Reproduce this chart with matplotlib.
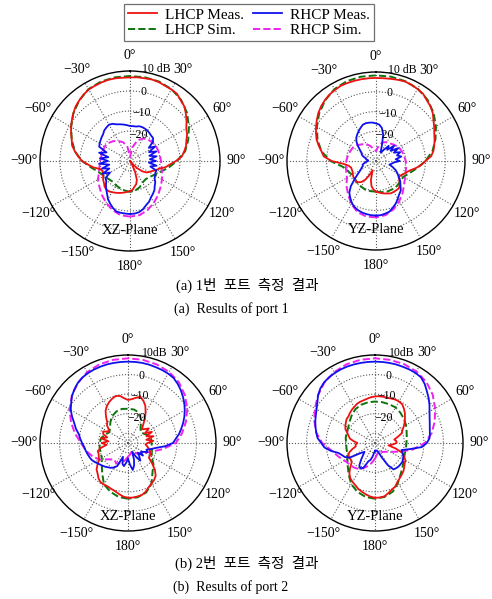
import numpy as np
import matplotlib
matplotlib.use('Agg')
import matplotlib.pyplot as plt
from matplotlib.lines import Line2D

plt.rcParams['font.family'] = ['Liberation Serif', 'Noto Sans CJK KR']

# angles in degrees (measured: 5 deg steps, simulated: 10 deg steps)
ang_meas = list(range(-180, 185, 5))
ang_sim = list(range(-180, 190, 10))

# ---- port 1, XZ plane ----
lhcp_meas_xz1 = [-20, -19.5, -19, -18.5, -18, -17.5, -17, -16.5, -16.5, -17, -18, -18.6, -19.5, -20, -20.5, -19.5,
                 -16.5, -14, -11, -9, -7, -5, -4, -2.5, -1, 0.5, 2, 3.5, 4.5, 5.5, 6.3, 6.5, 6.8, 7, 7, 6.8,
                 6.8, 7, 7, 7.2, 7, 6.5, 6.3, 6, 4.5, 3.5, 1.5, -0.5, -2.5, -3.5, -5, -6, -7.5, -9, -12, -15,
                 -17, -20, -21.5, -23, -24, -25, -27, -30, -33, -35, -33, -29, -25, -23, -22, -20.5, -20]
lhcp_sim_xz1 = [-19.5, -20, -20.5, -21, -21.5, -21, -20, -18.5, -15.5, -11, -7, -4, -1, 2, 4.5, 6.5, 7.3, 7.5,
                7.5, 7.5, 7.3, 6.5, 4.8, 2.3, -1, -4, -7, -11.5, -15.5, -19, -21, -22.5, -23, -22.5, -21, -20, -19.5]
rhcp_meas_xz1 = [-8.5, -8.6, -8.7, -8.8, -10, -11.5, -13, -15, -16.5, -18, -19.5, -20, -23.5, -20, -24, -20.5,
                 -24.5, -19.5, -24, -20, -24, -19, -22.5, -18, -17.5, -17, -16.5, -16, -15, -14.5, -14, -14.5,
                 -15.5, -16, -16.5, -17, -17.5, -17.5, -17.5, -17, -17, -17.2, -17.5, -18, -18.5, -18.7, -20,
                 -23.5, -20.5, -24.5, -21, -25, -21.5, -25, -22, -25.5, -21.5, -24.5, -21, -21, -20.5, -20, -18.5,
                 -17.5, -16, -15, -14, -12.5, -11.5, -10, -9, -8.6, -8.5]
rhcp_sim_xz1 = [-7.2, -7.5, -9, -11, -13, -15, -16.5, -18.5, -19.5, -20, -20.5, -20.5, -20.5, -21, -22, -23.5,
                -25, -28, -33, -28, -24, -22, -21, -20.5, -20, -20, -19.8, -19.5, -19, -18, -16.5, -15, -13,
                -11, -9, -7.5, -7.2]

# ---- port 1, YZ plane ----
lhcp_meas_yz1 = [-19.5, -20.5, -22, -25, -30, -27, -24, -22, -21, -20.5, -21, -21, -21.5, -22, -22, -22,
                 -21, -18.5, -12.5, -8.5, -7, -5, -3, -1.5, 0, 1.5, 3, 4.2, 5.2, 6, 6.5, 7, 7, 7, 7, 7,
                 7, 7, 7.2, 7.5, 7.8, 7.5, 7, 6.5, 5, 4, 2.5, 0.5, -1, -2.5, -3.5, -4.5, -5.5, -7, -10, -12,
                 -14.5, -17, -18.5, -19.5, -20.5, -21, -19.5, -18, -17, -17, -17, -17, -17.5, -18, -18.5, -19, -19.5]
lhcp_sim_yz1 = [-19.5, -19.5, -19.5, -20, -20.5, -21, -21, -20, -18, -12, -7, -3.5, -0.5, 2.5, 5, 7, 8, 8.3,
                8.3, 8.3, 8, 7.2, 5.5, 3, 0, -3, -6, -10, -14, -17, -19, -19, -18.5, -18.5, -18.5, -19, -19.5]
rhcp_meas_yz1 = [-7.4, -7.5, -7.7, -8, -8.5, -9.3, -10.5, -12.3, -14, -17, -21, -24, -26, -27, -28, -28,
                 -29, -30, -31, -31, -30, -29.5, -28, -27, -26.5, -25, -23, -21, -19.5, -18.5, -17.5, -16.5,
                 -15.5, -15.2, -15.3, -15.5, -16, -16.5, -18, -21, -26, -29, -30, -28, -25, -27, -23, -26,
                 -22, -25, -22, -24, -22, -25, -23, -26, -27, -28, -26, -24, -22.5, -21, -19, -17.5, -15.5,
                 -14.5, -13, -11.3, -10, -8.5, -8, -7.5, -7.4]
rhcp_sim_yz1 = [-6.5, -6.5, -7.5, -10, -13, -15.5, -18, -19, -19.5, -20, -20.5, -21, -21.5, -22.5, -24, -25,
                -27, -29, -30, -27, -25, -24, -23.5, -22.5, -21.5, -21, -20.5, -20, -19.5, -19, -18, -16.5,
                -14, -11.5, -9, -7.2, -6.5]

# ---- port 2, XZ plane ----
lhcp_meas_xz2 = [-7, -7.5, -8.5, -9.5, -10, -10.5, -10.5, -10.5, -11.5, -13, -14, -16, -18, -18.5, -19, -19,
                 -21, -24, -21.5, -25, -21, -24, -21.5, -21, -23.5, -23, -21, -20, -17.5, -15, -13.3, -12,
                 -11, -10.2, -10.5, -12, -13, -12.5, -11.5, -10.5, -12, -14, -17, -20, -23, -25, -24, -22,
                 -25, -21.5, -25, -21.5, -25.5, -22, -25, -26, -25, -24, -23, -22.5, -22, -22, -19, -15.5, -13,
                 -11.8, -11, -10, -8.5, -7.5, -7.2, -7, -7]
lhcp_sim_xz2 = [-6.5, -7, -8.5, -10.5, -14.5, -17.5, -19.5, -20.2, -20.3, -20.5, -21, -22.5, -24, -23, -21, -19,
                -17.8, -17.3, -17.5, -17.6, -18.5, -21.5, -25, -26.5, -25.5, -24, -23, -23, -22.5, -22, -21,
                -18, -15.5, -11, -8, -6.8, -6.5]
rhcp_meas_xz2 = [-27, -25, -23, -24, -27.5, -22, -20.5, -19.5, -18.8, -18, -17.3, -16.5, -15.5, -14.5, -14,
                 -13.5, -13, -12.5, -11.5, -10.5, -9.5, -7.5, -5.8, -3.5, -1.2, 0.5, 2.4, 3.8, 5, 5.8, 6.2,
                 6.4, 6.5, 6.6, 6.6, 6.6, 6.6, 6.6, 6.6, 6.5, 6.3, 6.2, 6, 5.6, 4.5, 3.2, 1.7, 0.2, -1.5,
                 -3.2, -5, -6.8, -8.5, -10.5, -12, -16, -20.5, -23, -25, -24, -26, -27, -25, -28, -26, -24,
                 -27, -30, -26, -23, -21, -24, -27]
rhcp_sim_xz2 = [-28, -26, -24, -23, -24, -22, -18, -15.5, -13, -11, -7.5, -4, -0.5, 2.5, 5, 6.8, 7.8, 8.2,
                8.3, 8.2, 7.8, 7, 5.5, 3, 0, -3.5, -7, -10.5, -17, -22, -25, -27, -28, -30, -30, -29, -28]

# ---- port 2, YZ plane ----
lhcp_meas_yz2 = [-7, -7.5, -8.3, -9.2, -10, -11.2, -12, -13, -14.6, -17, -19.4, -20, -20, -20, -21, -23,
                 -25, -25, -26, -24, -22, -21, -20, -18.3, -17.5, -16.8, -16, -15.8, -15, -14.3, -13.7, -13,
                 -12.6, -12.4, -12, -11.5, -11.2, -11, -11, -11, -10.8, -10.5, -10.5, -10.8, -12, -13.4, -15,
                 -16.5, -18, -19.5, -20.5, -23, -25, -24, -24, -26, -28, -24, -20, -18.5, -17, -16.5, -15.5,
                 -14.5, -13.8, -13, -12, -10.5, -9.7, -8.5, -7.3, -7, -7]
lhcp_sim_yz2 = [-6.5, -7, -8.5, -10.7, -14, -16.8, -18.7, -19.8, -20.2, -20.2, -19.8, -19.5, -19.2, -18, -16.5,
                -15, -14.2, -13.9, -13.8, -13.8, -13.9, -14, -14.8, -15.7, -16.7, -17.8, -18.5, -18.9, -19,
                -18.8, -18, -16.5, -14.5, -11.5, -8.5, -7, -6.5]
rhcp_meas_yz2 = [-31, -30, -28, -26, -25, -21, -20, -21, -24, -26.5, -28, -26, -20, -18, -17, -15.5, -12, -9,
                 -7.5, -5.5, -4.5, -3.5, -2.5, -1.6, -0.5, 1, 3, 4.5, 5.5, 6, 6.3, 6.5, 6.6, 6.6, 6.6, 6.6,
                 6.6, 6.6, 6.6, 6.6, 6.5, 6.5, 6.4, 6, 4.5, 2.5, 0.8, -1, -2.8, -4.2, -5.2, -6, -6.5, -7,
                 -8.5, -11, -17, -21, -20, -19, -18.5, -18, -18, -18, -18.2, -18.5, -22, -27, -30, -31, -31,
                 -31, -31]
rhcp_sim_yz2 = [-27, -24.5, -22, -19.5, -18.5, -18, -17, -15, -12.5, -8, -4.5, -2, 0.5, 3, 5.3, 6.8, 7.8, 8.2,
                8.3, 8.2, 8, 7.3, 5.8, 3.5, 0.5, -2.5, -5.5, -9.5, -15.5, -22, -26, -28, -29, -30, -30, -29, -27]

theta_labels = ['0°', '30°', '60°', '90°', '120°', '150°', '180°',
                '−150°', '−120°', '−90°', '−60°', '−30°']

C_LM = '#ee1111'
C_LS = '#0b750b'
C_RM = '#1010ee'
C_RS = '#ee22ee'


def draw_pattern(ax, lm, ls, rm, rs, plane, dbtxt, plane_r):
    tm = np.deg2rad(ang_meas)
    ts = np.deg2rad(ang_sim)
    ax.set_theta_zero_location('N')
    ax.set_theta_direction(-1)
    ax.plot(ts, ls, color=C_LS, ls='--', lw=1.4)
    ax.plot(ts, rs, color=C_RS, ls='--', lw=1.4)
    ax.plot(tm, lm, color=C_LM, lw=1.3)
    ax.plot(tm, rm, color=C_RM, lw=1.3)
    ax.set_ylim(-35, 10)
    ax.set_rgrids([-30, -20, -10, 0], labels=['', '', '', ''])
    ax.set_thetagrids(range(0, 360, 30), labels=theta_labels, fontsize=10)
    ax.tick_params(axis='x', pad=1)
    ax.grid(True, color='0.35', ls=':', lw=0.8)
    ax.spines['polar'].set_linewidth(1.0)
    # radial labels
    for txt, rv, dx, dy in [(dbtxt, 10, 19, 1.5), ('0', 0, 9.5, -1), ('−10', -10, 8.5, -1.5),
                            ('−20', -20, 6, -3)]:
        ax.annotate(txt, xy=(0, rv), xytext=(dx, dy), textcoords='offset points',
                    ha='center', va='center', fontsize=8.5, annotation_clip=False)
    ax.text(np.pi, plane_r, plane, ha='center', va='center', fontsize=10.5)


W, H = 492, 599
fig = plt.figure(figsize=(W / 100, H / 100), dpi=100)


def px_axes(l, t, w, h):
    return fig.add_axes([l / W, 1 - (t + h) / H, w / W, h / H], projection='polar')


ax1 = px_axes(40, 71, 180, 180)
ax2 = px_axes(287, 72, 178, 178)
ax3 = px_axes(40, 355, 176, 176)
ax4 = px_axes(287, 355, 176, 176)

draw_pattern(ax1, lhcp_meas_xz1, lhcp_sim_xz1, rhcp_meas_xz1, rhcp_sim_xz1, 'XZ-Plane', '10 dB', -0.5)
draw_pattern(ax2, lhcp_meas_yz1, lhcp_sim_yz1, rhcp_meas_yz1, rhcp_sim_yz1, 'YZ-Plane', '10 dB', -0.5)
draw_pattern(ax3, lhcp_meas_xz2, lhcp_sim_xz2, rhcp_meas_xz2, rhcp_sim_xz2, 'XZ-Plane', '10dB', 2.5)
draw_pattern(ax4, lhcp_meas_yz2, lhcp_sim_yz2, rhcp_meas_yz2, rhcp_sim_yz2, 'YZ-Plane', '10dB', 2.5)

handles = [Line2D([], [], color=C_LM, lw=1.3), Line2D([], [], color=C_LS, ls='--', lw=1.4),
           Line2D([], [], color=C_RM, lw=1.3), Line2D([], [], color=C_RS, ls='--', lw=1.4)]
labels = ['LHCP Meas.', 'LHCP Sim.', 'RHCP Meas.', 'RHCP Sim.']
leg = fig.legend(handles, labels, loc='upper center', bbox_to_anchor=(249 / W, 1 - 4 / H), ncol=2,
                 fontsize=11, frameon=True, fancybox=False, edgecolor='0.3', borderpad=0.25,
                 handlelength=1.9, handletextpad=0.5, columnspacing=0.6, labelspacing=0.12,
                 borderaxespad=0)
leg.get_frame().set_linewidth(0.9)

fig.text(247 / W, 1 - 285 / H, '(a) 1번  포트  측정  결과', ha='center', va='center', fontsize=10.5)
fig.text(231 / W, 1 - 309 / H, '(a)  Results of port 1', ha='center', va='center', fontsize=10)
fig.text(247 / W, 1 - 563 / H, '(b) 2번  포트  측정  결과', ha='center', va='center', fontsize=10.5)
fig.text(231 / W, 1 - 587 / H, '(b)  Results of port 2', ha='center', va='center', fontsize=10)

fig.savefig('out.png', dpi=100)
